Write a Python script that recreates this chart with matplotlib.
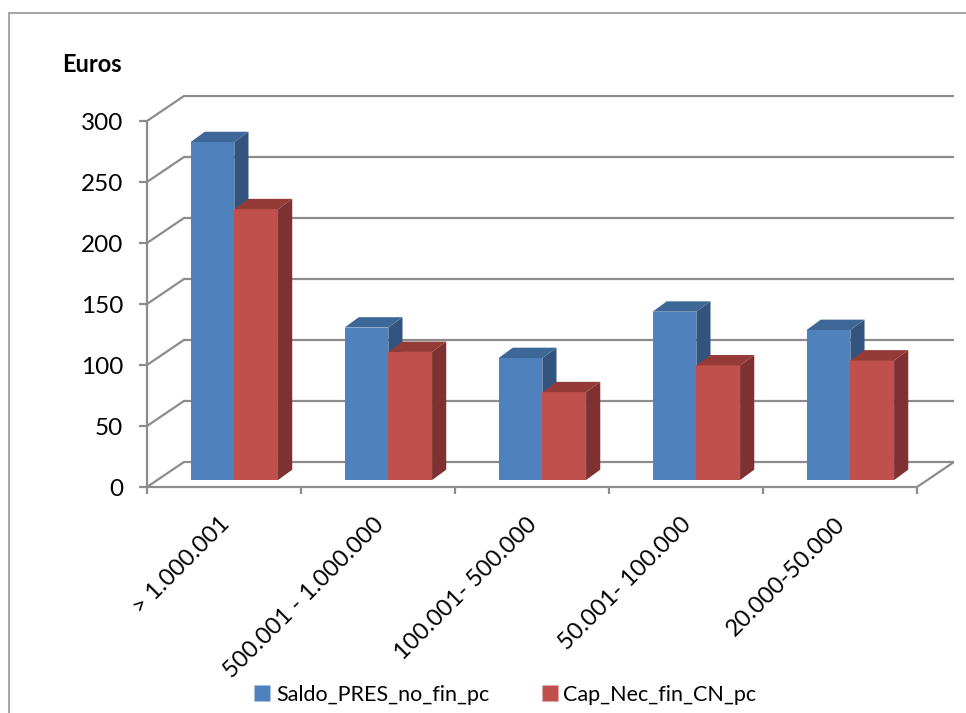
import matplotlib
matplotlib.use("Agg")
import matplotlib.pyplot as plt
from matplotlib.patches import Polygon
from matplotlib.lines import Line2D
import matplotlib.transforms as mtransforms

plt.rcParams['font.family'] = ['Lato', 'DejaVu Sans']

categories = ['> 1.000.001', '500.001 - 1.000.000', '100.001- 500.000',
              '50.001- 100.000', '20.000-50.000']
saldo_pres = [277, 125, 100, 138, 123]
cap_nec = [222, 105, 72, 94, 98]
series_names = ['Saldo_PRES_no_fin_pc', 'Cap_Nec_fin_CN_pc']
y_ticks = [0, 50, 100, 150, 200, 250, 300]

# colours: front, side, top
blue = ('#4F81BD', '#32547E', '#3D6796')
red = ('#C0504D', '#7E3130', '#943A37')
grid_col = '#8C8C8C'

# oblique depth of the plot box (x in category units, y in value units)
wall_dx, wall_dy = 0.24, 20.5
# position of the bars inside that depth
bar_off_dx, bar_off_dy = 0.067, 5.7
bar_dx, bar_dy = 0.092, 8.5
bar_w = 0.284

fig = plt.figure(figsize=(9.66, 7.13), dpi=100)
ax = fig.add_axes([147 / 966, 226 / 713, 807 / 966, 391.6 / 713])
ax.set_xlim(-0.5, 4.5 + wall_dx)
ax.set_ylim(0, 300 + wall_dy + 0.5)

# back wall gridlines and left side wall
for v in y_ticks:
    ax.plot([-0.5 + wall_dx, 4.5 + wall_dx], [v + wall_dy, v + wall_dy],
            color=grid_col, lw=1.6, solid_capstyle='butt', zorder=1)
    ax.plot([-0.5, -0.5 + wall_dx], [v, v + wall_dy],
            color=grid_col, lw=1.6, zorder=1)
# right edge of the floor
ax.plot([4.5, 4.5 + wall_dx], [0, wall_dy], color=grid_col, lw=1.6, zorder=1)


def draw_bar(x0, val, cols, z):
    x1 = x0 + bar_w
    b = bar_off_dy
    ax.bar(x0, val, width=bar_w, bottom=b, align='edge', color=cols[0],
           edgecolor='none', zorder=z)
    side = [(x1, b), (x1 + bar_dx, b + bar_dy),
            (x1 + bar_dx, b + val + bar_dy), (x1, b + val)]
    top = [(x0, b + val), (x1, b + val),
           (x1 + bar_dx, b + val + bar_dy), (x0 + bar_dx, b + val + bar_dy)]
    ax.add_patch(Polygon(side, closed=True, facecolor=cols[1],
                         edgecolor='none', zorder=z))
    ax.add_patch(Polygon(top, closed=True, facecolor=cols[2],
                         edgecolor='none', zorder=z))


z = 3
for i in range(len(categories)):
    left = i + bar_off_dx - bar_w
    draw_bar(left, saldo_pres[i], blue, z)
    z += 1
    draw_bar(left + bar_w, cap_nec[i], red, z)
    z += 1

# axes styling
for s in ['top', 'right']:
    ax.spines[s].set_visible(False)
ax.spines['left'].set_bounds(0, 300)
ax.spines['bottom'].set_bounds(-0.5, 4.5)
for s in ['left', 'bottom']:
    ax.spines[s].set_color(grid_col)
    ax.spines[s].set_linewidth(1.6)
    ax.spines[s].set_zorder(2)

ax.set_yticks(y_ticks)
ax.set_yticklabels([str(v) for v in y_ticks])
ax.tick_params(axis='y', direction='out', length=6, width=1.6,
               color=grid_col, labelsize=17.5, pad=11, labelcolor='black')
ax.set_xticks([i - 0.5 for i in range(len(categories) + 1)])
ax.set_xticklabels([])
ax.tick_params(axis='x', direction='out', length=5, width=1.6, color=grid_col)

# rotated category labels
for i, lab in enumerate(categories):
    tr = mtransforms.offset_copy(ax.transData, fig=fig, x=2, y=-34, units='dots')
    ax.text(i, 0, lab, transform=tr, rotation=45, rotation_mode='anchor',
            ha='right', va='center', fontsize=17, color='black')

# axis title
fig.text(62 / 966, 1 - 64 / 713, 'Euros', fontsize=17, fontweight='bold',
         ha='left', va='center')

# legend
handles = [Line2D([], [], marker='s', linestyle='none', markersize=11.5,
                  markerfacecolor=blue[0], markeredgecolor='none'),
           Line2D([], [], marker='s', linestyle='none', markersize=11.5,
                  markerfacecolor=red[0], markeredgecolor='none')]
fig.legend(handles, series_names, loc='center', ncol=2,
           bbox_to_anchor=(505 / 966, 1 - 695 / 713), frameon=False,
           fontsize=15.5, handletextpad=0.25, columnspacing=2.4,
           handlelength=0.8)

# chart frame
fx, fy = 9 / 966, 1 - 13 / 713
fig.add_artist(Line2D([fx, fx], [0, fy], color='#A6A6A6', lw=1.5,
                      transform=fig.transFigure))
fig.add_artist(Line2D([fx, 1], [fy, fy], color='#A6A6A6', lw=1.5,
                      transform=fig.transFigure))

fig.savefig('out.png', dpi=100)
